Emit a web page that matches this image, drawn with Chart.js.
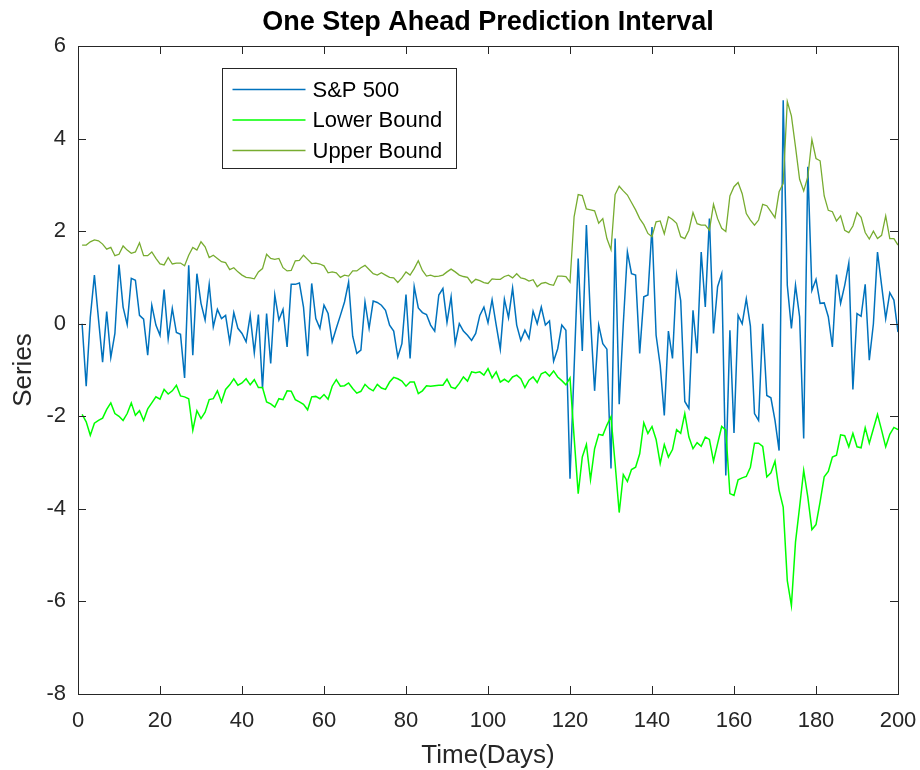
<!DOCTYPE html>
<html>
<head>
<meta charset="utf-8">
<script src="https://cdn.jsdelivr.net/npm/chart.js@4.4.1/dist/chart.umd.min.js"></script>
<style>
  html, body { margin: 0; padding: 0; background: #fff; }
  #wrap { width: 920px; height: 770px; }
</style>
</head>
<body>
<div id="wrap"><canvas id="c" width="920" height="770"></canvas></div>
<script>
// ---------------- data ----------------
const days = Array.from({length: 200}, (_, i) => i + 1);

const sp500 = [
  0.00,-1.35,0.14,1.05,0.10,-0.83,0.26,-0.73,-0.21,1.28,
  0.36,-0.02,0.98,0.94,0.18,0.10,-0.68,0.40,-0.03,-0.25,
  0.74,-0.32,0.33,-0.19,-0.23,-1.17,1.26,-0.68,1.08,0.44,
  0.08,0.85,-0.07,0.31,0.11,0.18,-0.39,0.24,-0.10,-0.21,
  -0.39,0.18,-0.63,0.20,-1.40,0.22,-0.86,0.62,0.08,0.31,
  -0.50,0.85,0.85,0.88,0.36,-0.70,0.87,0.11,-0.10,0.40,
  0.22,-0.39,-0.10,0.18,0.47,0.90,-0.27,-0.64,-0.57,0.47,
  -0.10,0.49,0.46,0.40,0.29,-0.03,-0.16,-0.72,-0.43,0.63,
  -0.75,0.80,0.34,0.24,0.20,-0.03,-0.16,0.62,0.76,0.03,
  0.58,-0.43,0.00,-0.16,-0.25,-0.36,-0.21,0.18,0.36,0.02,
  0.52,-0.03,-0.55,0.53,0.13,0.77,-0.03,-0.36,-0.14,-0.32,
  0.27,0.00,0.36,-0.03,0.06,-0.81,-0.54,-0.03,-0.14,-3.35,
  -0.97,1.41,-0.59,2.13,0.10,-1.45,-0.03,-0.43,-0.55,-3.13,
  1.84,-1.74,0.00,1.55,1.08,1.05,-0.64,0.58,0.62,2.09,
  -0.25,-0.90,-1.98,-0.16,-0.75,1.05,0.50,-1.68,-1.83,0.29,
  -0.64,1.55,0.36,2.27,-0.21,0.80,1.08,-3.28,-0.14,-2.36,
  0.18,0.00,0.54,-0.05,-1.94,-2.09,0.00,-1.55,-1.60,-2.09,
  -2.74,4.83,0.83,-0.10,0.83,0.15,-2.48,3.39,0.72,0.96,
  0.44,0.45,0.15,-0.50,1.06,0.44,0.83,1.31,-1.42,0.22,
  0.16,0.85,-0.79,0.00,1.55,0.83,0.11,0.67,0.51,-0.18
];

const lowerBound = [
  -1.96,-2.12,-2.41,-2.15,-2.09,-2.04,-1.85,-1.71,-1.94,-2.00,
  -2.09,-1.94,-1.71,-1.98,-1.88,-2.09,-1.84,-1.71,-1.58,-1.63,
  -1.42,-1.52,-1.45,-1.33,-1.56,-1.58,-1.62,-2.30,-1.88,-2.05,
  -1.91,-1.64,-1.62,-1.45,-1.69,-1.42,-1.32,-1.19,-1.33,-1.28,
  -1.19,-1.32,-1.21,-1.38,-1.38,-1.69,-1.73,-1.80,-1.62,-1.64,
  -1.45,-1.46,-1.64,-1.69,-1.74,-1.86,-1.58,-1.57,-1.62,-1.53,
  -1.63,-1.35,-1.21,-1.35,-1.34,-1.28,-1.40,-1.50,-1.46,-1.31,
  -1.40,-1.45,-1.31,-1.39,-1.42,-1.26,-1.16,-1.19,-1.24,-1.35,
  -1.26,-1.26,-1.51,-1.45,-1.34,-1.35,-1.34,-1.33,-1.33,-1.20,
  -1.37,-1.40,-1.29,-1.15,-1.24,-1.04,-1.06,-1.04,-1.11,-0.97,
  -1.17,-1.04,-1.26,-1.20,-1.26,-1.15,-1.11,-1.19,-1.38,-1.22,
  -1.15,-1.27,-1.08,-1.04,-1.13,-1.02,-1.15,-1.23,-1.32,-1.17,
  -2.45,-3.67,-2.88,-2.61,-3.37,-2.70,-2.39,-2.41,-2.19,-2.01,
  -3.02,-4.08,-3.26,-3.41,-3.15,-3.10,-2.81,-2.14,-2.37,-2.22,
  -2.50,-3.02,-2.61,-2.88,-2.72,-2.29,-2.37,-1.94,-2.45,-2.70,
  -2.57,-2.65,-2.45,-2.50,-2.97,-2.59,-2.22,-2.30,-3.67,-3.71,
  -3.37,-3.33,-3.30,-3.10,-2.58,-2.58,-2.65,-3.31,-3.22,-2.97,
  -3.60,-3.96,-5.55,-6.09,-4.72,-3.96,-3.17,-3.74,-4.45,-4.34,
  -3.85,-3.31,-3.19,-2.88,-2.84,-2.40,-2.42,-2.66,-2.37,-2.66,
  -2.68,-2.25,-2.58,-2.27,-1.96,-2.30,-2.66,-2.39,-2.24,-2.29
];

const upperBound = [
  1.70,1.70,1.77,1.81,1.79,1.72,1.61,1.65,1.47,1.50,
  1.68,1.59,1.52,1.55,1.75,1.47,1.47,1.55,1.41,1.29,
  1.27,1.43,1.29,1.31,1.31,1.25,1.48,1.65,1.59,1.77,
  1.66,1.43,1.48,1.41,1.34,1.32,1.17,1.21,1.12,1.05,
  1.00,0.99,0.97,1.12,1.19,1.50,1.41,1.39,1.41,1.21,
  1.14,1.15,1.36,1.37,1.48,1.39,1.30,1.31,1.29,1.25,
  1.10,1.12,1.10,1.00,1.05,1.03,1.14,1.14,1.21,1.26,
  1.17,1.08,1.05,1.10,1.05,1.00,0.99,0.89,0.99,1.12,
  1.05,1.19,1.36,1.15,1.03,1.05,1.02,1.03,1.05,1.12,
  1.18,1.12,1.05,1.02,1.00,0.88,0.96,0.93,0.89,0.87,
  0.97,0.96,0.96,1.02,1.05,0.99,1.08,0.99,0.97,0.92,
  0.95,0.80,0.87,0.89,0.85,0.83,1.03,1.03,1.02,0.90,
  2.31,2.79,2.77,2.48,2.46,2.44,2.17,2.27,1.84,1.60,
  2.79,2.97,2.87,2.78,2.62,2.46,2.27,2.14,1.95,1.88,
  2.20,2.22,1.94,2.31,2.25,2.17,1.88,1.84,2.02,2.40,
  2.16,2.13,2.13,2.02,2.58,2.27,2.06,1.99,2.76,2.96,
  3.05,2.81,2.38,2.24,2.13,2.24,2.58,2.55,2.42,2.29,
  2.85,3.03,4.80,4.49,3.82,3.12,2.87,3.17,3.98,3.57,
  3.52,2.76,2.45,2.42,2.22,2.33,2.02,1.97,2.11,2.40,
  2.30,1.97,1.83,2.00,1.84,1.91,2.33,1.84,1.84,1.70
];

const seriesNames = ['S&P 500', 'Lower Bound', 'Upper Bound'];
const xTicks = [0, 20, 40, 60, 80, 100, 120, 140, 160, 180, 200];
const yTicks = [-8, -6, -4, -2, 0, 2, 4, 6];

// ---------------- styling ----------------
const FONT = "'Liberation Sans', Arial, Helvetica, sans-serif";
const AXIS_COLOR = '#262626';
Chart.defaults.font.family = FONT;
Chart.defaults.color = AXIS_COLOR;

const frameAndLegend = {
  id: 'frameAndLegend',
  afterDatasetsDraw(chart) {
    const {ctx, chartArea: a, scales: {x, y}} = chart;
    ctx.save();
    ctx.strokeStyle = AXIS_COLOR;
    ctx.lineWidth = 1;
    // box
    ctx.strokeRect(Math.round(a.left) + 0.5, Math.round(a.top) + 0.5,
                   Math.round(a.right - a.left), Math.round(a.bottom - a.top));
    // inward ticks
    const TL = 8;
    ctx.beginPath();
    xTicks.forEach(v => {
      const px = Math.round(x.getPixelForValue(v)) + 0.5;
      ctx.moveTo(px, a.bottom); ctx.lineTo(px, a.bottom - TL);
      ctx.moveTo(px, a.top);    ctx.lineTo(px, a.top + TL);
    });
    yTicks.forEach(v => {
      const py = Math.round(y.getPixelForValue(v)) + 0.5;
      ctx.moveTo(a.left, py);  ctx.lineTo(a.left + TL, py);
      ctx.moveTo(a.right, py); ctx.lineTo(a.right - TL, py);
    });
    ctx.stroke();

    // legend box
    const lx = Math.round(a.left + 144) + 0.5, ly = Math.round(a.top + 22) + 0.5;
    const lw = 234, lh = 100;
    ctx.fillStyle = '#fff';
    ctx.fillRect(lx, ly, lw, lh);
    ctx.strokeStyle = AXIS_COLOR;
    ctx.lineWidth = 1;
    ctx.strokeRect(lx, ly, lw, lh);
    ctx.font = '22px ' + FONT;
    ctx.textBaseline = 'middle';
    ctx.textAlign = 'left';
    chart.data.datasets.forEach((ds, i) => {
      const yy = ly + 21 + i * 30.5;
      ctx.strokeStyle = ds.borderColor;
      ctx.lineWidth = ds.borderWidth;
      ctx.beginPath();
      ctx.moveTo(lx + 10, yy); ctx.lineTo(lx + 83, yy);
      ctx.stroke();
      ctx.fillStyle = '#000';
      ctx.fillText(ds.label, lx + 90, yy + 1);
    });
    ctx.restore();
  }
};

new Chart(document.getElementById('c'), {
  type: 'line',
  data: {
    labels: days,
    datasets: [
      { label: seriesNames[0], data: sp500, borderColor: '#0072BD', borderWidth: 1.5, order: 3 },
      { label: seriesNames[1], data: lowerBound, borderColor: '#00FF00', borderWidth: 1.5, order: 2 },
      { label: seriesNames[2], data: upperBound, borderColor: '#77AC30', borderWidth: 1.3, order: 1 }
    ]
  },
  options: {
    responsive: false,
    animation: false,
    devicePixelRatio: 1,
    elements: { point: { radius: 0, hoverRadius: 0 }, line: { tension: 0 } },
    layout: { padding: { left: 0, right: 22, top: 0, bottom: 0 } },
    plugins: {
      legend: { display: false },
      tooltip: { enabled: false },
      title: {
        display: true,
        fullSize: false,
        text: 'One Step Ahead Prediction Interval',
        color: '#000',
        font: { size: 27, weight: 'bold', family: FONT, lineHeight: 1.2 },
        padding: { top: 6, bottom: 7.6 }
      }
    },
    scales: {
      x: {
        type: 'linear',
        min: 0, max: 200,
        afterFit(scale) { scale.height = 76; scale.paddingRight = 0; scale.paddingLeft = 0; },
        afterBuildTicks(scale) { scale.ticks = xTicks.map(v => ({ value: v })); },
        grid: { display: false, drawTicks: false },
        border: { display: false },
        ticks: { color: AXIS_COLOR, font: { size: 22, family: FONT }, padding: 14, maxRotation: 0, autoSkip: false },
        title: { display: true, text: 'Time(Days)', color: AXIS_COLOR, font: { size: 26, family: FONT }, padding: { top: 0, bottom: -1 } }
      },
      y: {
        min: -8, max: 6,
        afterFit(scale) { scale.width = 78; },
        afterBuildTicks(scale) { scale.ticks = yTicks.map(v => ({ value: v })); },
        grid: { display: false, drawTicks: false },
        border: { display: false },
        ticks: { color: AXIS_COLOR, font: { size: 22, family: FONT }, padding: 12 },
        title: { display: true, text: 'Series', color: AXIS_COLOR, font: { size: 26, family: FONT }, padding: { top: 8, bottom: 0 } }
      }
    }
  },
  plugins: [frameAndLegend]
});
</script>
</body>
</html>
